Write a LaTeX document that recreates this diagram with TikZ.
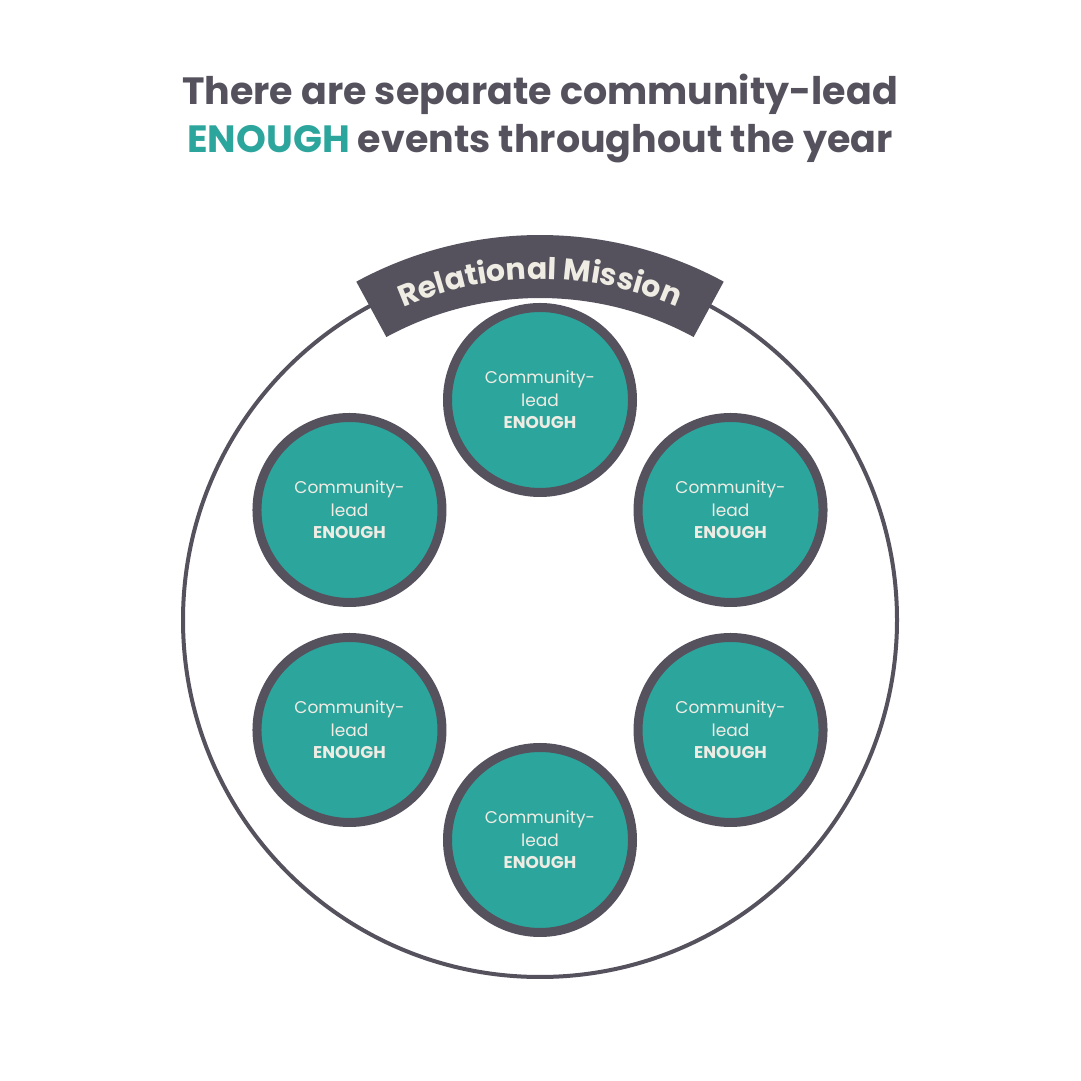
\documentclass[tikz,border=0pt]{standalone}
\usepackage{fontspec}
\setmainfont{Poppins}
\usetikzlibrary{calc, decorations.text}
\definecolor{slate}{HTML}{55525E}
\definecolor{enoughteal}{HTML}{2CA59D}
\definecolor{cream}{HTML}{EFECE4}
\tikzset{
  heading/.style={text=slate, anchor=base, font=\fontsize{38}{46}\selectfont\bfseries},
  ring/.style={circle, draw=slate, line width=4pt, minimum size=714pt, inner sep=0pt},
  event/.style={circle, draw=slate, line width=9pt, fill=enoughteal, minimum size=185pt,
    inner sep=0pt, align=center, text=cream, font=\fontsize{17}{22.5}\selectfont},
}

\begin{document}
\begin{tikzpicture}[x=1pt, y=1pt]
    \useasboundingbox (0,0) rectangle (1081,1081);
    \fill[white] (0,0) rectangle (1081,1081);
    % title
    \node[heading] (title1) at (540,976) {There are separate community-lead};
    \node[heading] (title2) at (540,928) {\textcolor{enoughteal}{ENOUGH} events throughout the year};
    % outer circle and banner
    \node[ring] (mission) at (540,461) {};
    \fill[slate] ($(mission)+(118.5:385)$) arc[start angle=118.5, end angle=61.5, radius=385]
      -- ($(mission)+(61.5:322)$) arc[start angle=61.5, end angle=118.5, radius=322] -- cycle;
    \path[decorate, decoration={text along path, text align=center,
        text={|\fontsize{30}{30}\selectfont\bfseries\color{cream}|Relational Mission}}]
      ($(mission)+(120:341)$) arc[start angle=120, end angle=60, radius=341];
    % events
    \foreach \a [count=\i] in {90,30,-30,-90,-150,150}
      \node[event] (ev\i) at ($(mission)+(\a:220)$) {Community-\\lead\\\textbf{ENOUGH}};
\end{tikzpicture}
\end{document}
